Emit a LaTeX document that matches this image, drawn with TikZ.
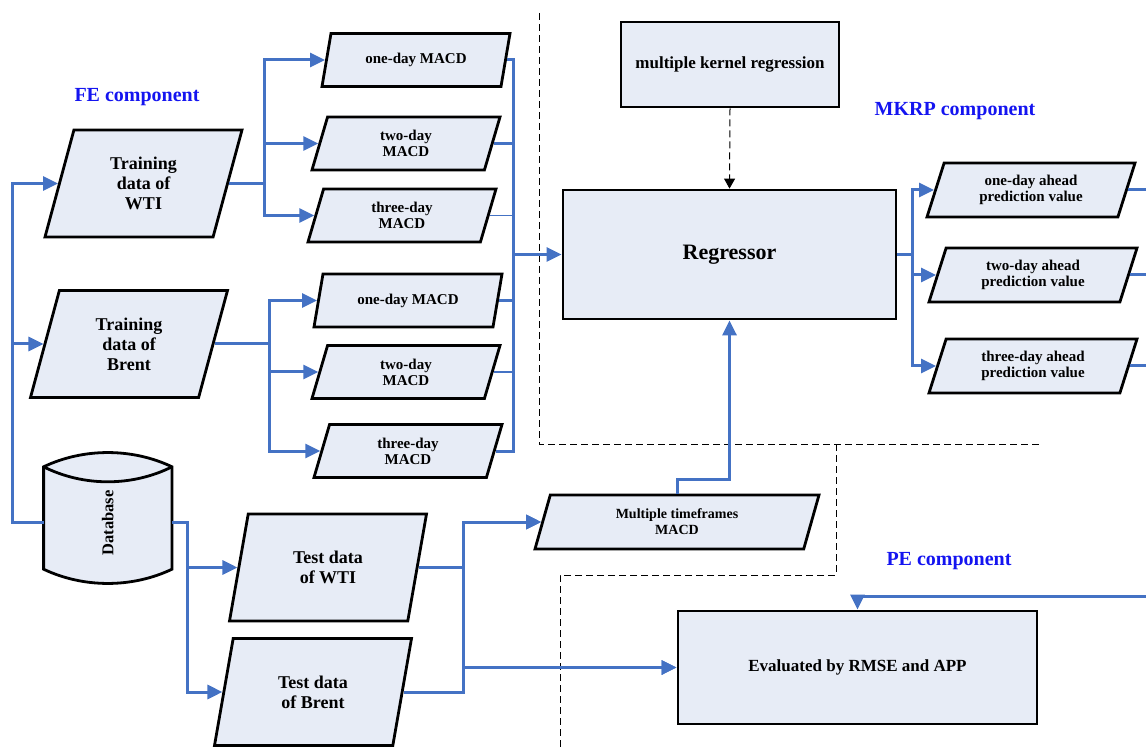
\documentclass[tikz,border=0pt]{standalone}
\usepackage{fontspec}
\setmainfont{Liberation Serif}
\usepackage{graphicx}
\usetikzlibrary{arrows.meta,shapes.geometric,backgrounds}
\definecolor{FlowBlue}{RGB}{68,114,196}
\definecolor{BoxFill}{RGB}{231,236,246}
\definecolor{LabelBlue}{RGB}{20,20,240}

\tikzset{
  outline/.style={draw=black, line width=2.8pt, fill=BoxFill},
  procbox/.style={rectangle, outline, align=center, font=\bfseries\fontsize{17}{20}\selectfont},
  databox/.style={trapezium, trapezium left angle=63, trapezium right angle=117,
    trapezium stretches body=true, outline, align=center, inner sep=2pt},
  bigpara/.style={databox, minimum width=197pt, minimum height=107pt, font=\bfseries\fontsize{18}{20}\selectfont},
  macdpara/.style={databox, minimum width=188pt, minimum height=53pt, font=\bfseries\fontsize{15}{16}\selectfont},
  predpara/.style={databox, minimum width=208pt, minimum height=54pt, font=\bfseries\fontsize{15}{16}\selectfont},
  multipara/.style={databox, minimum width=284pt, minimum height=54pt, font=\bfseries\fontsize{14}{16}\selectfont},
  dbbody/.style={rectangle, minimum width=128pt, minimum height=102pt, inner sep=0pt, font=\bfseries\fontsize{16.5}{18}\selectfont},
  complabel/.style={text=LabelBlue, font=\bfseries\fontsize{20}{22}\selectfont},
  flow/.style={draw=FlowBlue, line width=3pt},
  flowarrow/.style={flow, -{Triangle[length=15pt,width=14pt]}},
  region/.style={draw=black, line width=1pt, dash pattern=on 7pt off 4pt}
}

\begin{document}
\begin{tikzpicture}[x=1pt, y=-1pt]
\useasboundingbox (0,0) rectangle (1146,751);

% component labels
\node[complabel] (feLabel) at (137,97) {FE component};
\node[complabel] (mkrpLabel) at (955,111) {MKRP component};
\node[complabel] (peLabel) at (949,561) {PE component};

% component borders
\draw[region] (539,13) -- (539,444) -- (1040,444);
\draw[region] (836,444) -- (836,575) -- (560,575) -- (560,751);

% FE component
\node[bigpara] (trainWTI) at (143.5,183.5) {Training\\data of\\WTI};
\node[bigpara] (trainBrent) at (129,344) {Training\\data of\\Brent};
\node[macdpara] (wtiOne) at (416,60) {one-day MACD};
\node[macdpara] (wtiTwo) at (406,143.5) {two-day\\MACD};
\node[macdpara] (wtiThree) at (402,215.5) {three-day\\MACD};
\node[macdpara] (brentOne) at (408,300.5) {one-day MACD};
\node[macdpara] (brentTwo) at (406,372) {two-day\\MACD};
\node[macdpara] (brentThree) at (408,451) {three-day\\MACD};

\node[dbbody] (db) at (107.8,518) {\rotatebox{90}{Database\hspace{10pt}}};
\begin{scope}[on background layer]
  \draw[outline] (db.north west) .. controls +(40,-19) and +(-40,-19) .. (db.north east)
    -- (db.south east) .. controls +(-40,19) and +(40,19) .. (db.south west) -- cycle;
  \draw[outline, fill=none] (db.north west) .. controls +(40,20) and +(-40,20) .. (db.north east);
\end{scope}

\node[bigpara] (testWTI) at (328,567.5) {Test data\\of WTI};
\node[bigpara] (testBrent) at (313,692) {Test data\\of Brent};
\node[multipara] (multiTF) at (677,522) {Multiple timeframes\\MACD};

% MKRP component
\node[procbox, minimum width=218pt, minimum height=85pt] (mkr) at (730,64.5) {multiple kernel regression};
\node[procbox, minimum width=333pt, minimum height=129pt, font=\bfseries\fontsize{22}{24}\selectfont] (reg) at (729.5,254.5) {Regressor};
\node[predpara] (predOne) at (1031,190) {one-day ahead\\prediction value};
\node[predpara] (predTwo) at (1033,275) {two-day ahead\\prediction value};
\node[predpara] (predThree) at (1033,366) {three-day ahead\\prediction value};

% PE component
\node[procbox, minimum width=359pt, minimum height=113pt] (eval) at (857.5,667.5) {Evaluated by RMSE and APP};

% bus lines
\coordinate (srcBus) at (12.5,0);
\coordinate (wtiBus) at (264,0);
\coordinate (brentBus) at (269,0);
\coordinate (dbBus) at (187.5,0);
\coordinate (testBus) at (463,0);
\coordinate (predBus) at (912,0);
\coordinate (rightEdge) at (1146,0);
\coordinate (macdBus) at (513,254.5);
\coordinate (peIn) at (1146,596);

\foreach \t in {trainWTI,trainBrent}
  \draw[flowarrow] ([yshift=-4pt]db.west) -- ([yshift=-4pt]db.west -| srcBus) |- (\t.west);
\foreach \m in {wtiOne,wtiTwo,wtiThree}
  \draw[flowarrow] (trainWTI.east) -- (trainWTI.east -| wtiBus) |- (\m.west);
\foreach \m in {brentOne,brentTwo,brentThree}
  \draw[flowarrow] (trainBrent.east) -- (trainBrent.east -| brentBus) |- (\m.west);
\foreach \m in {wtiOne,wtiTwo,brentOne,brentThree}
  \draw[flow] (\m.east) -| (macdBus);
\foreach \m in {wtiThree,brentTwo}
  \draw[flow, line width=1.5pt] (\m.east) -| (macdBus);
\draw[flowarrow] (macdBus) -- (reg.west);

\foreach \t in {testWTI,testBrent}
  \draw[flowarrow] ([yshift=-4pt]db.east) -- ([yshift=-4pt]db.east -| dbBus) |- (\t.west);
\foreach \t in {testWTI,testBrent} {
  \draw[flowarrow] (\t.east) -- (\t.east -| testBus) |- (multiTF.west);
  \draw[flowarrow] (\t.east) -- (\t.east -| testBus) |- (eval.west);
}
\draw[flowarrow] (multiTF.north) -- ++(0,-14) -| (reg.south);

\draw[dash pattern=on 7pt off 4pt, line width=1pt, -{Triangle[length=10pt,width=11pt]}] (mkr.south) -- (reg.north);

\foreach \p in {predOne,predTwo,predThree} {
  \draw[flowarrow] (reg.east) -- (reg.east -| predBus) |- (\p.west);
  \draw[flow] (\p.east) -- (\p.east -| rightEdge);
}
\draw[flowarrow] (peIn) -| (eval.north);
\end{tikzpicture}
\end{document}
